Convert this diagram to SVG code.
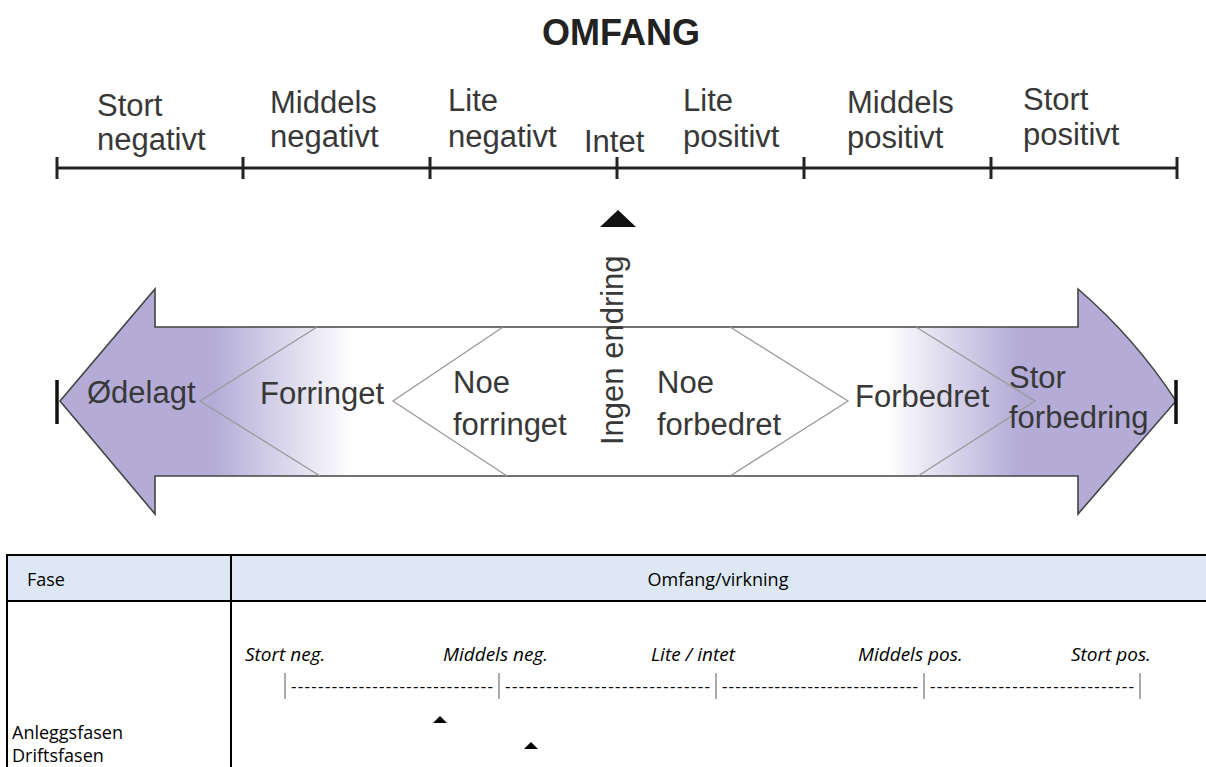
<svg xmlns="http://www.w3.org/2000/svg" width="1206" height="767" viewBox="0 0 1206 767">
<defs>
<linearGradient id="fillGrad" gradientUnits="userSpaceOnUse" x1="57" y1="0" x2="1177" y2="0">
<stop offset="0" stop-color="#b4acd7"/>
<stop offset="0.14" stop-color="#b4acd7"/>
<stop offset="0.265" stop-color="#ffffff"/>
<stop offset="0.74" stop-color="#ffffff"/>
<stop offset="0.858" stop-color="#b4acd7"/>
<stop offset="1" stop-color="#b4acd7"/>
</linearGradient>
<style>
.lbl{font-family:"Liberation Sans",Arial,sans-serif;font-size:31px;fill:#383838}
.title{font-family:"Liberation Sans",Arial,sans-serif;font-size:36px;font-weight:bold;fill:#222}
.axis{stroke:#222;stroke-width:3;fill:none}
.chev{stroke:#999;stroke-width:1.3;fill:none}
.tbl{font-family:"Open Sans","Noto Sans",sans-serif;font-size:18px;fill:#000}
.it{font-family:"Open Sans","Noto Sans",sans-serif;font-size:19px;font-style:italic;fill:#000}
.dash{font-family:"Open Sans","Noto Sans",sans-serif;font-size:17px;fill:#000}
.bord{stroke:#000;stroke-width:2;fill:none}
.tick{stroke:#555;stroke-width:1}
</style>
</defs>
<rect width="1206" height="767" fill="#fff"/>
<g id="title"><text class="title" x="621" y="45" text-anchor="middle">OMFANG</text></g>
<g id="scale">
<line class="axis" x1="57" y1="168" x2="1177" y2="168"/>
<line class="axis" x1="57" y1="157" x2="57" y2="179"/>
<line class="axis" x1="243" y1="157" x2="243" y2="179"/>
<line class="axis" x1="430" y1="157" x2="430" y2="179"/>
<line class="axis" x1="617" y1="157" x2="617" y2="179"/>
<line class="axis" x1="804" y1="157" x2="804" y2="179"/>
<line class="axis" x1="991" y1="157" x2="991" y2="179"/>
<line class="axis" x1="1177" y1="157" x2="1177" y2="179"/>
</g>
<g id="lbl-stort-neg"><text class="lbl" x="97" y="116">Stort</text><text class="lbl" x="97" y="150">negativt</text></g>
<g id="lbl-middels-neg"><text class="lbl" x="270" y="113">Middels</text><text class="lbl" x="270" y="147">negativt</text></g>
<g id="lbl-lite-neg"><text class="lbl" x="448" y="111">Lite</text><text class="lbl" x="448" y="147">negativt</text></g>
<g id="lbl-intet"><text class="lbl" x="584" y="152">Intet</text></g>
<g id="lbl-lite-pos"><text class="lbl" x="683" y="111">Lite</text><text class="lbl" x="683" y="147">positivt</text></g>
<g id="lbl-middels-pos"><text class="lbl" x="847" y="113">Middels</text><text class="lbl" x="847" y="148">positivt</text></g>
<g id="lbl-stort-pos"><text class="lbl" x="1023" y="110">Stort</text><text class="lbl" x="1023" y="145">positivt</text></g>
<g id="marker"><polygon points="618,210 636,227 600,227" fill="#111"/></g>
<g id="double-arrow">
<path d="M60,401 L155,289 L155,327 L1078,327 L1078,289 Q1135,338 1176,401 L1078,514 L1078,476 L155,476 L155,514 Z" fill="url(#fillGrad)" stroke="#444" stroke-width="1.6" stroke-linejoin="miter"/>
<line x1="57" y1="380" x2="57" y2="424" stroke="#111" stroke-width="3.5"/>
<line x1="1176" y1="380" x2="1176" y2="424" stroke="#111" stroke-width="3.5"/>
</g>
<g id="connectors">
<polyline class="chev" points="317,327 200,401 320,476"/>
<polyline class="chev" points="503,327 393,401 507,476"/>
<polyline class="chev" points="730,327 848,401 730,476"/>
<polyline class="chev" points="916,327 1035,401 918,476"/>
</g>
<g id="zone-odelagt"><text class="lbl" x="87" y="403">Ødelagt</text></g>
<g id="zone-forringet"><text class="lbl" x="260" y="404">Forringet</text></g>
<g id="zone-noe-forringet"><text class="lbl" x="453" y="393">Noe</text><text class="lbl" x="453" y="435">forringet</text></g>
<g id="zone-ingen"><text class="lbl" transform="translate(623,445) rotate(-90)">Ingen endring</text></g>
<g id="zone-noe-forbedret"><text class="lbl" x="657" y="393">Noe</text><text class="lbl" x="657" y="435">forbedret</text></g>
<g id="zone-forbedret"><text class="lbl" x="855" y="407">Forbedret</text></g>
<g id="zone-stor-forbedring"><text class="lbl" x="1009" y="388">Stor</text><text class="lbl" x="1009" y="428">forbedring</text></g>
<g id="table">
<rect x="7" y="555" width="1199" height="46" fill="#dde8f4"/>
<line class="bord" x1="7" y1="555" x2="1206" y2="555"/>
<line class="bord" x1="7" y1="601" x2="1206" y2="601" stroke-width="2.5"/>
<line class="bord" x1="7" y1="554" x2="7" y2="767"/>
<line class="bord" x1="231" y1="554" x2="231" y2="767"/>
<text class="tbl" x="27" y="586">Fase</text>
<text class="tbl" x="718" y="586" text-anchor="middle">Omfang/virkning</text>
<text class="it" x="245" y="661">Stort neg.</text>
<text class="it" x="443" y="661">Middels neg.</text>
<text class="it" x="651" y="661">Lite / intet</text>
<text class="it" x="858" y="661">Middels pos.</text>
<text class="it" x="1071" y="661">Stort pos.</text>
<line class="tick" x1="285" y1="673" x2="285" y2="699"/>
<line class="tick" x1="499" y1="673" x2="499" y2="699"/>
<line class="tick" x1="716" y1="673" x2="716" y2="699"/>
<line class="tick" x1="924" y1="673" x2="924" y2="699"/>
<line class="tick" x1="1140" y1="673" x2="1140" y2="699"/>
<text class="dash" x="291" y="692" textLength="202" lengthAdjust="spacing">------------------------------</text>
<text class="dash" x="505" y="692" textLength="205" lengthAdjust="spacing">------------------------------</text>
<text class="dash" x="722" y="692" textLength="196" lengthAdjust="spacing">------------------------------</text>
<text class="dash" x="930" y="692" textLength="204" lengthAdjust="spacing">------------------------------</text>
<text class="tbl" x="12" y="739">Anleggsfasen</text>
<text class="tbl" x="12" y="762">Driftsfasen</text>
<polygon points="440,716 447,723 433,723" fill="#000"/>
<polygon points="531,742 538,749 524,749" fill="#000"/>
</g>
</svg>
